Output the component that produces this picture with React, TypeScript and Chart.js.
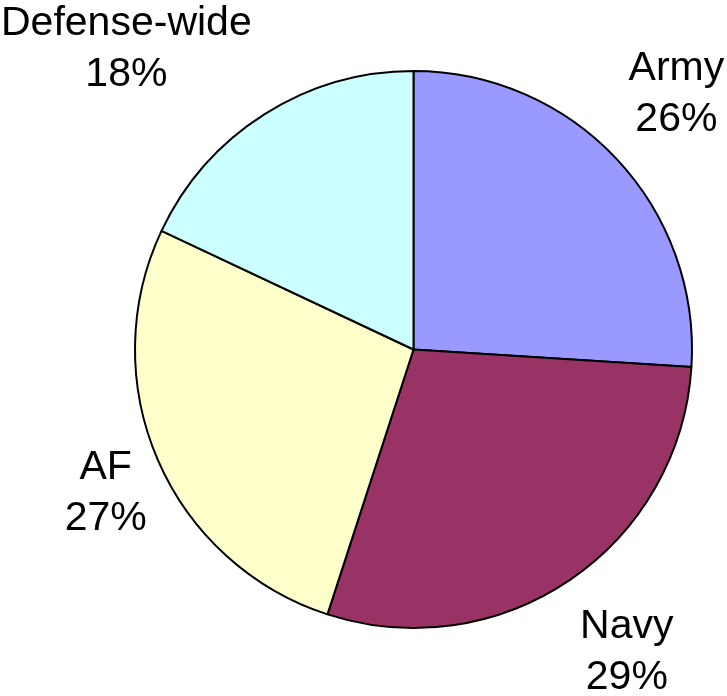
import React, { useEffect, useRef } from "react";
import { Chart, registerables } from "chart.js";

Chart.register(...registerables);

const categories = ["Army", "Navy", "AF", "Defense-wide"];
const shares = [26, 29, 27, 18];
const colors = ["#9999FF", "#993366", "#FFFFCC", "#CCFFFF"];

// label placement (style): angle shift in degrees, distance as fraction of radius
const labelPlacement = [
  { shift: -1, dist: 1.312 },
  { shift: -1, dist: 1.324 },
  { shift: -1.7, dist: 1.216 },
  { shift: -11.3, dist: 1.487 },
];

const outsideLabels = {
  id: "outsideLabels",
  afterDatasetsDraw(chart: any) {
    const ctx = chart.ctx;
    const meta = chart.getDatasetMeta(0);
    ctx.save();
    ctx.font = '41px "Liberation Sans", Arial, sans-serif';
    ctx.fillStyle = "#000";
    ctx.textAlign = "center";
    ctx.textBaseline = "middle";
    meta.data.forEach((arc: any, i: number) => {
      const p = arc.getProps(["x", "y", "startAngle", "endAngle", "outerRadius"], true);
      const mid = (p.startAngle + p.endAngle) / 2 + (labelPlacement[i].shift * Math.PI) / 180;
      const r = (p.outerRadius + 1) * labelPlacement[i].dist;
      const cx = p.x + Math.cos(mid) * r;
      const cy = p.y + Math.sin(mid) * r;
      const lines = [categories[i], `${shares[i]}%`];
      const lh = 51;
      lines.forEach((t, j) => {
        ctx.fillText(t, cx, cy + (j - (lines.length - 1) / 2) * lh);
      });
    });
    ctx.restore();
  },
};

export default function App() {
  const ref = useRef<HTMLCanvasElement>(null);
  useEffect(() => {
    if (!ref.current) return;
    const chart = new Chart(ref.current, {
      type: "pie",
      data: {
        labels: categories,
        datasets: [
          {
            data: shares,
            backgroundColor: colors,
            borderColor: "#000000",
            borderWidth: 2,
          },
        ],
      },
      options: {
        responsive: false,
        animation: false,
        layout: { padding: { left: 134, right: 34, top: 70, bottom: 67 } },
        plugins: {
          legend: { display: false },
          tooltip: { enabled: false },
        },
      },
      plugins: [outsideLabels],
    });
    return () => chart.destroy();
  }, []);
  return (
    <div style={{ position: "absolute", left: 0, top: 0, width: 727, height: 696, background: "#fff" }}>
      <canvas ref={ref} width={727} height={696} style={{ width: 727, height: 696 }} />
    </div>
  );
}
